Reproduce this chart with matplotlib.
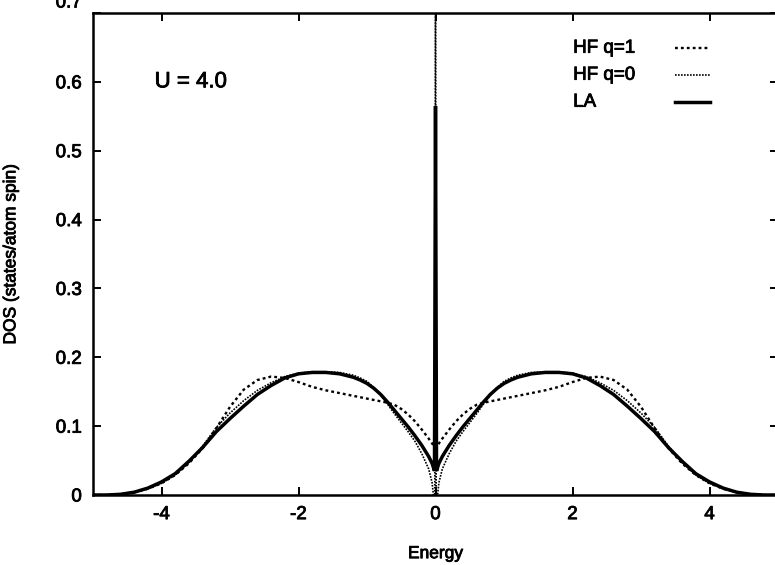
import matplotlib; matplotlib.use("Agg")
import matplotlib.pyplot as plt
import matplotlib.transforms as mtransforms
import matplotlib.patheffects as pe

plt.rcParams['font.family'] = ['Liberation Sans', 'DejaVu Sans']
plt.rcParams['axes.unicode_minus'] = False

# energies, left and right of the gap
x_left = [-5.0, -4.8, -4.6, -4.4, -4.2, -4.0, -3.8, -3.6, -3.4, -3.2, -3.0, -2.8, -2.6, -2.4, -2.2, -2.0,
          -1.8, -1.6, -1.4, -1.2, -1.1, -1.0, -0.9, -0.8, -0.7, -0.6, -0.5, -0.4, -0.3, -0.2, -0.1, -0.05]
x_right = [0.05, 0.1, 0.2, 0.3, 0.4, 0.5, 0.6, 0.7, 0.8, 0.9, 1.0, 1.1, 1.2, 1.4, 1.6, 1.8,
           2.0, 2.2, 2.4, 2.6, 2.8, 3.0, 3.2, 3.4, 3.6, 3.8, 4.0, 4.2, 4.4, 4.6, 4.8, 5.0]

# HF q=1 (dashed)
hf1_left = [0.0, 0.0, 0.001, 0.004, 0.009, 0.017, 0.029, 0.046, 0.068, 0.097, 0.128, 0.153, 0.167, 0.172, 0.170, 0.164,
            0.157, 0.152, 0.148, 0.144, 0.142, 0.140, 0.138, 0.136, 0.134, 0.131, 0.125, 0.117, 0.107, 0.095, 0.082, 0.075]
hf1_mid_x = [0.0]
hf1_mid = [0.068]
hf1_right = [0.075, 0.082, 0.095, 0.107, 0.117, 0.125, 0.131, 0.134, 0.136, 0.138, 0.140, 0.142, 0.144, 0.148, 0.152, 0.157,
             0.164, 0.170, 0.172, 0.167, 0.153, 0.128, 0.097, 0.068, 0.046, 0.029, 0.017, 0.009, 0.004, 0.001, 0.0, 0.0]

# HF q=0 (fine dots), drops to zero at the gap, spike at E=0
hf0_left = [0.0, 0.0, 0.001, 0.004, 0.009, 0.017, 0.029, 0.047, 0.071, 0.098, 0.119, 0.137, 0.152, 0.163, 0.172, 0.177,
            0.179, 0.179, 0.178, 0.174, 0.170, 0.165, 0.156, 0.145, 0.132, 0.118, 0.105, 0.092, 0.078, 0.060, 0.038, 0.018]
hf0_mid_x = [-0.03, -0.01, 0.0, 0.01, 0.03]
hf0_mid = [0.0, 0.0, 0.80, 0.0, 0.0]
hf0_right = [0.018, 0.038, 0.060, 0.078, 0.092, 0.105, 0.118, 0.132, 0.145, 0.156, 0.165, 0.170, 0.174, 0.178, 0.179, 0.179,
             0.177, 0.172, 0.163, 0.152, 0.137, 0.119, 0.098, 0.071, 0.047, 0.029, 0.017, 0.009, 0.004, 0.001, 0.0, 0.0]

# LA (solid), sharp peak at E=0
la_left = [0.0, 0.0, 0.001, 0.004, 0.010, 0.019, 0.031, 0.049, 0.069, 0.092, 0.111, 0.129, 0.146, 0.159, 0.170, 0.176,
           0.178, 0.178, 0.176, 0.171, 0.167, 0.162, 0.155, 0.146, 0.135, 0.123, 0.111, 0.099, 0.086, 0.072, 0.056, 0.046]
la_mid_x = [-0.015, 0.0, 0.015]
la_mid = [0.035, 0.565, 0.035]
la_right = [0.046, 0.056, 0.072, 0.086, 0.099, 0.111, 0.123, 0.135, 0.146, 0.155, 0.162, 0.167, 0.171, 0.176, 0.178, 0.178,
            0.176, 0.170, 0.159, 0.146, 0.129, 0.111, 0.092, 0.069, 0.049, 0.031, 0.019, 0.010, 0.004, 0.001, 0.0, 0.0]

labels = ["HF q=1", "HF q=0", "LA"]
x_ticks = [-4, -2, 0, 2, 4]
y_ticks = [0, 0.1, 0.2, 0.3, 0.4, 0.5, 0.6, 0.7]
y_ticklabels = ["0", "0.1", "0.2", "0.3", "0.4", "0.5", "0.6", "0.7"]

W, H = 775, 565
fig = plt.figure(figsize=(W / 100, H / 100), dpi=100)
ax = fig.add_axes([93 / W, 70 / H, 685 / W, 482 / H])

styles = [dict(color="black", lw=1.7, ls=(0, (1.2, 1.3))),
          dict(color="black", lw=1.2, ls=(0, (1, 0.8))),
          dict(color="black", lw=2.5, ls="-")]
series = [(x_left + hf1_mid_x + x_right, hf1_left + hf1_mid + hf1_right),
          (x_left + hf0_mid_x + x_right, hf0_left + hf0_mid + hf0_right),
          (x_left + la_mid_x + x_right, la_left + la_mid + la_right)]
for (xs, ys), st in zip(series, styles):
    ax.plot(xs, ys, solid_joinstyle="miter", **st)

ax.set_xlim(-5, 5); ax.set_ylim(0, 0.7)
ax.set_xticks(x_ticks); ax.set_yticks(y_ticks); ax.set_yticklabels(y_ticklabels)
ax.tick_params(direction="in", top=True, right=True, length=6, width=1.4, labelsize=13.5, pad=8)
for sp in ax.spines.values(): sp.set_linewidth(1.8)
# the 0.7 label sits a bit above its tick in the original
lab07 = ax.get_yticklabels()[-1]
lab07.set_transform(lab07.get_transform() + mtransforms.ScaledTranslation(0, 12 / 100, fig.dpi_scale_trans))

ax.set_xlabel("Energy", fontsize=12.5, va="baseline")
ax.set_ylabel("DOS (states/atom spin)", fontsize=12.5)
ax.xaxis.set_label_coords(0.5, -0.131)
ax.yaxis.set_label_coords(-0.109, 0.5)

texts = [ax.text(-4.1, 0.6, "U = 4.0", fontsize=16, va="center", ha="left")]

# gnuplot-style key: text then sample on the right
for i, (lab, st) in enumerate(zip(labels, styles)):
    yy = 0.927 - i * 0.056
    texts.append(ax.text(0.701, yy, lab, transform=ax.transAxes, fontsize=13.5, va="center", ha="left"))
    ax.plot([0.850, 0.901], [yy, yy], transform=ax.transAxes, **st)

# the scanned original has heavier glyphs: thicken the strokes a little
heavy = [pe.withStroke(linewidth=0.6, foreground="black")]
for t in texts + ax.get_xticklabels() + ax.get_yticklabels() + [ax.xaxis.label, ax.yaxis.label]:
    t.set_path_effects(heavy)

fig.savefig("out.png", dpi=100)
